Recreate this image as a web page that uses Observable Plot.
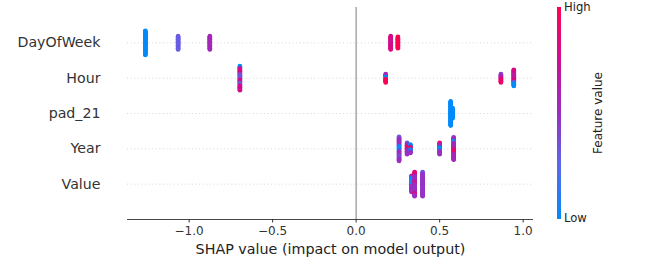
<!DOCTYPE html>
<html>
<head>
<meta charset="utf-8">
<script src="https://cdn.jsdelivr.net/npm/d3@7"></script>
<script src="https://cdn.jsdelivr.net/npm/@observablehq/plot@0.6"></script>
<style>
  body { margin: 0; background: #fff; font-family: "DejaVu Sans", sans-serif; }
  #wrap { position: relative; width: 652px; height: 264px; }
  #wrap svg { position: absolute; left: 0; top: 0; font-family: "DejaVu Sans", sans-serif; }
  .lg { position: absolute; font-family: "DejaVu Sans", sans-serif; color: #222; white-space: nowrap; }
</style>
</head>
<body>
<div id="wrap"></div>
<script>
// ---- data ----
const features = ["DayOfWeek", "Hour", "pad_21", "Year", "Value"];
const xTicks = [-1, -0.5, 0, 0.5, 1];
const xLabel = "SHAP value (impact on model output)";
const legendHigh = "High";
const legendLow = "Low";
const legendTitle = "Feature value";
const colorStops = ["#008bfb", "#5b68ea", "#9a2fc2", "#cc0e92", "#ff0052"];

// one entry per stacked cluster of samples
const clusterFeature = [0, 0, 0, 0, 0, 1, 1, 1, 1, 2, 2, 3, 3, 3, 3, 3, 4, 4, 4];
const clusterShap = [-1.262, -1.066, -0.876, 0.207, 0.250,
                     -0.696, 0.177, 0.867, 0.944,
                     0.566, 0.577,
                     0.257, 0.305, 0.325, 0.500, 0.584,
                     0.332, 0.350, 0.398];
// feature values of the samples, top to bottom, as [value, count] runs
const clusterRuns = [
  [[0.0, 41]],
  [[0.3, 23]],
  [[0.55, 23]],
  [[0.8, 8], [0.72, 6], [0.8, 9]],
  [[1.0, 20]],
  [[0.0, 4], [0.78, 10], [0.35, 9], [0.78, 5], [0.3, 4], [0.78, 9]],
  [[0.55, 5], [0.0, 4], [1.0, 6]],
  [[0.45, 5], [0.7, 4], [0.9, 6]],
  [[0.8, 8], [0.65, 8], [0.8, 5], [0.3, 2], [0.0, 5]],
  [[0.0, 41]],
  [[0.0, 18]],
  [[0.3, 3], [0.5, 13], [0.05, 8], [0.5, 8], [0.35, 4], [0.5, 5]],
  [[0.3, 3], [0.55, 4], [1.0, 4], [0.55, 5], [0.5, 4]],
  [[0.0, 4], [0.9, 4], [0.0, 4], [0.5, 3]],
  [[0.9, 3], [0.6, 5], [0.0, 6], [0.5, 6]],
  [[0.5, 6], [0.1, 4], [0.55, 10], [0.9, 8], [0.55, 10]],
  [[0.5, 4], [0.05, 13], [0.5, 11]],
  [[0.85, 7], [0.5, 10], [0.85, 3], [0.5, 15], [0.85, 3], [0.5, 3]],
  [[0.35, 4], [0.48, 37]]
];

// ---- beeswarm layout (shap-style stacking) ----
const rowHeight = 0.4;
const points = [];
features.forEach((f, fi) => {
  const idx = clusterFeature.map((c, i) => c === fi ? i : -1).filter(i => i >= 0);
  const sizes = idx.map(i => d3.sum(clusterRuns[i], r => r[1]));
  const maxUp = d3.max(sizes, n => Math.ceil((n - 1) / 2));
  const scale = 0.9 * rowHeight / (maxUp + 1);
  idx.forEach(ci => {
    const vals = clusterRuns[ci].flatMap(([v, c]) => Array(c).fill(v));
    const n = vals.length;
    const top = Math.ceil((n - 1) / 2);
    vals.forEach((v, k) => {
      points.push({shap: clusterShap[ci], value: v, y: fi - (top - k) * scale});
    });
  });
});

const interp = d3.piecewise(d3.interpolateRgb, colorStops);

const plot = Plot.plot({
  width: 652,
  height: 264,
  marginLeft: 127,
  marginRight: 119,
  marginTop: 7,
  marginBottom: 45,
  style: {fontFamily: "DejaVu Sans, sans-serif", background: "transparent"},
  x: {domain: [-1.369, 1.062]},
  y: {domain: [-1, features.length], reverse: true},
  color: {type: "linear", domain: [0, 1], interpolate: interp},
  marks: [
    Plot.ruleY(features.map((d, i) => i), {stroke: "#cccccc", strokeWidth: 0.8, strokeDasharray: "1,2.6"}),
    Plot.ruleX([0], {stroke: "#999999", strokeWidth: 1.3}),
    Plot.dot(points, {x: "shap", y: "y", fill: "value", r: 2.3, stroke: null}),
    Plot.ruleY([features.length], {stroke: "#333333", strokeWidth: 0.9}),
    Plot.axisX({ticks: xTicks, tickFormat: d3.format(".1f"), tickSize: 3.5, tickPadding: 3, fontSize: 12, color: "#333333", label: null}),
    Plot.axisY({ticks: features.map((d, i) => i), tickFormat: i => features[i], tickSize: 0, tickPadding: 27, fontSize: 14.2, color: "#333333", label: null}),
    Plot.text([xLabel], {frameAnchor: "bottom", dy: 30, fontSize: 14.3, fill: "#222", lineAnchor: "middle"})
  ]
});

const wrap = document.getElementById("wrap");
wrap.appendChild(plot);

// colour bar legend
const stops = d3.range(0, 1.0001, 0.05).map(t => `${interp(t)} ${(t * 100).toFixed(1)}%`).join(", ");
const bar = document.createElement("div");
bar.style.cssText = `position:absolute;left:557px;top:7px;width:4px;height:212px;background:linear-gradient(to top, ${stops});`;
wrap.appendChild(bar);

function addText(txt, css) {
  const d = document.createElement("div");
  d.className = "lg";
  d.textContent = txt;
  d.style.cssText += css;
  wrap.appendChild(d);
  return d;
}
addText(legendHigh, "left:564px;top:0px;font-size:11.6px;line-height:14px;");
addText(legendLow, "left:564px;top:211px;font-size:11.6px;line-height:14px;");
addText(legendTitle, "left:598px;top:113px;font-size:12px;line-height:14px;transform:translate(-50%,-50%) rotate(-90deg);");
</script>
</body>
</html>
